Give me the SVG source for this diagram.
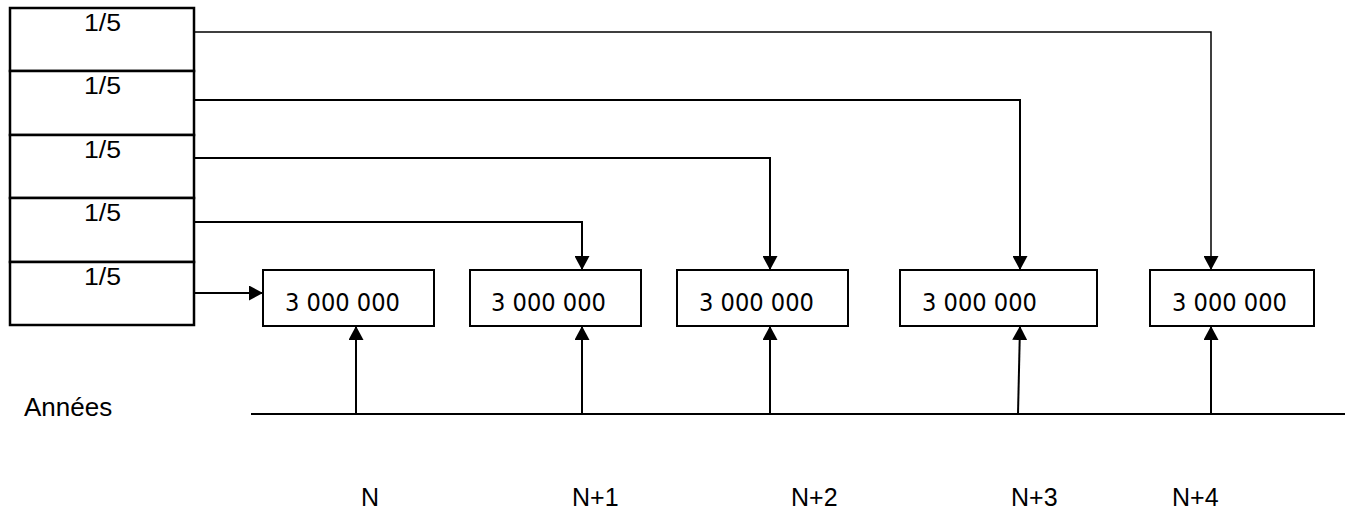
<svg xmlns="http://www.w3.org/2000/svg" width="1348" height="510" viewBox="0 0 1348 510">
<style>
.cell{fill:#fff;stroke:#000;stroke-width:2.5}
.box{fill:#fff;stroke:#000;stroke-width:2}
.ln{fill:none;stroke:#000;stroke-width:2}
.t{font-family:"Liberation Sans",Arial,sans-serif;font-size:23px;fill:#000}
.y{font-family:"Liberation Sans",Arial,sans-serif;font-size:25px;fill:#000}
.v{font-family:"DejaVu Sans",sans-serif;font-size:24px;fill:#000}
</style>
<defs>
<marker id="ah" viewBox="0 0 14 15" refX="14" refY="7.5" markerWidth="14" markerHeight="15" markerUnits="userSpaceOnUse" orient="auto">
<path d="M0,0 L14,7.5 L0,15 Z" fill="#000"/>
</marker>
</defs>
<g id="stack">
<rect class="cell" x="10" y="8" width="184" height="63"/>
<rect class="cell" x="10" y="71" width="184" height="64"/>
<rect class="cell" x="10" y="135" width="184" height="63"/>
<rect class="cell" x="10" y="198" width="184" height="64"/>
<rect class="cell" x="10" y="262" width="184" height="63"/>
<text class="t" x="84" y="31" textLength="37" lengthAdjust="spacingAndGlyphs">1/5</text>
<text class="t" x="84" y="94" textLength="37" lengthAdjust="spacingAndGlyphs">1/5</text>
<text class="t" x="84" y="158" textLength="37" lengthAdjust="spacingAndGlyphs">1/5</text>
<text class="t" x="84" y="221" textLength="37" lengthAdjust="spacingAndGlyphs">1/5</text>
<text class="t" x="84" y="285" textLength="37" lengthAdjust="spacingAndGlyphs">1/5</text>
</g>
<g id="box1"><rect class="box" x="263" y="270" width="171" height="56"/><text class="v" x="285" y="311" textLength="115" lengthAdjust="spacingAndGlyphs">3 000 000</text></g>
<g id="box2"><rect class="box" x="470" y="270" width="171" height="56"/><text class="v" x="491" y="311" textLength="115" lengthAdjust="spacingAndGlyphs">3 000 000</text></g>
<g id="box3"><rect class="box" x="677" y="270" width="171" height="56"/><text class="v" x="699" y="311" textLength="115" lengthAdjust="spacingAndGlyphs">3 000 000</text></g>
<g id="box4"><rect class="box" x="900" y="270" width="197" height="56"/><text class="v" x="922" y="311" textLength="115" lengthAdjust="spacingAndGlyphs">3 000 000</text></g>
<g id="box5"><rect class="box" x="1150" y="270" width="164" height="56"/><text class="v" x="1172" y="311" textLength="115" lengthAdjust="spacingAndGlyphs">3 000 000</text></g>
<g id="labels">
<text class="y" x="24" y="416" style="font-size:26px">Années</text>
<text class="y" x="361" y="506">N</text>
<text class="y" x="572" y="506">N+1</text>
<text class="y" x="791" y="506">N+2</text>
<text class="y" x="1011" y="506">N+3</text>
<text class="y" x="1172" y="506">N+4</text>
</g>
<g id="connectors">
<path class="ln" d="M194,32 H1211 V270" marker-end="url(#ah)" style="stroke-width:1.5"/>
<path class="ln" d="M194,100 H1020 V270" marker-end="url(#ah)"/>
<path class="ln" d="M194,158 H770 V270" marker-end="url(#ah)"/>
<path class="ln" d="M194,222 H582 V270" marker-end="url(#ah)"/>
<path class="ln" d="M194,293 H263" marker-end="url(#ah)"/>
<path class="ln" d="M251,414 H1345"/>
<path class="ln" d="M356,414 V326" marker-end="url(#ah)"/>
<path class="ln" d="M582,414 V326" marker-end="url(#ah)"/>
<path class="ln" d="M770,414 V326" marker-end="url(#ah)"/>
<path class="ln" d="M1018,414 L1020,326" marker-end="url(#ah)"/>
<path class="ln" d="M1211,414 V326" marker-end="url(#ah)"/>
</g>
</svg>
